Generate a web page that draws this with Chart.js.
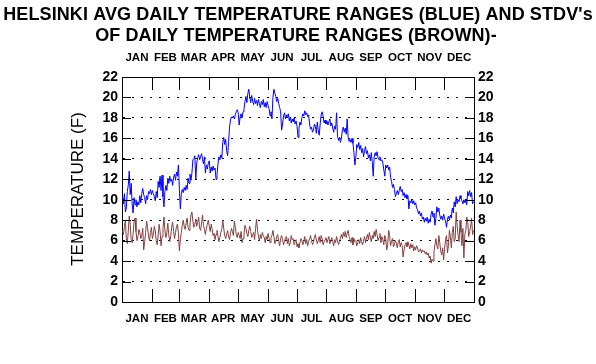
<!DOCTYPE html>
<html>
<head>
<meta charset="utf-8">
<script src="https://cdn.jsdelivr.net/npm/chart.js@4/dist/chart.umd.min.js"></script>
<style>
  html, body { margin: 0; padding: 0; background: #fff; }
  canvas { display: block; }
</style>
</head>
<body>
<canvas id="chart" width="596" height="364"></canvas>
<script>
const monthNames = ['JAN', 'FEB', 'MAR', 'APR', 'MAY', 'JUN', 'JUL', 'AUG', 'SEP', 'OCT', 'NOV', 'DEC'];
const monthStarts = [0, 31, 59, 90, 120, 151, 181, 212, 243, 273, 304, 334, 365];
const yTicks = [0, 2, 4, 6, 8, 10, 12, 14, 16, 18, 20, 22];

// avg daily temperature range (F), one value per day, Jan..Dec
const blueRange = [
  10.3, 9.6, 10.6, 8.8, 9.2, 10.8, 11.4, 12.8, 10.5, 11.6, 9.6, 8.7, 10.2, 9.5, 10.0, 9.3, 9.8, 9.5, 10.4, 9.7, 10.6, 11.1, 10.5, 10.2, 9.6, 10.4, 10.0, 10.8, 10.6, 11.0, 10.5,
  10.9, 10.6, 10.3, 9.9, 10.8, 10.2, 11.8, 11.2, 12.3, 10.9, 12.4, 10.3, 9.3, 10.8, 11.4, 10.9, 12.1, 11.6, 12.3, 11.8, 12.0, 11.4, 12.2, 12.5, 11.9, 12.7, 12.3, 13.4,
  11.0, 9.1, 10.6, 11.0, 10.7, 11.2, 10.9, 11.4, 11.0, 12.1, 11.6, 12.5, 11.9, 12.6, 13.9, 14.0, 14.3, 12.0, 13.6, 14.1, 14.4, 13.9, 14.2, 14.5, 14.0, 13.5, 14.2, 12.6, 13.4, 13.0, 13.6,
  13.8, 12.6, 13.2, 12.8, 13.3, 12.9, 13.1, 12.0, 12.4, 13.5, 14.2, 13.9, 14.4, 14.1, 15.6, 16.1, 15.4, 15.9, 14.8, 14.3, 15.6, 17.1, 17.8, 18.1, 18.0, 18.2, 17.9, 18.3, 18.6, 18.8,
  18.5, 17.3, 18.1, 18.4, 18.0, 18.6, 18.9, 19.6, 20.1, 19.5, 20.4, 20.8, 20.0, 19.5, 20.2, 19.6, 19.3, 19.9, 19.4, 19.7, 19.2, 19.8, 19.4, 19.0, 19.6, 19.3, 19.8, 19.1, 19.5, 19.0, 19.6,
  19.2, 18.9, 18.2, 18.6, 17.9, 20.0, 20.8, 20.4, 20.1, 19.6, 19.9, 19.4, 19.0, 18.6, 16.8, 17.4, 18.2, 18.5, 17.9, 18.3, 18.0, 18.4, 17.7, 18.1, 17.5, 17.9, 17.6, 18.0, 17.4, 17.7,
  17.2, 16.1, 17.0, 17.6, 17.3, 18.0, 18.4, 18.2, 18.7, 18.3, 18.5, 18.1, 18.3, 17.4, 16.9, 17.1, 16.6, 16.8, 17.4, 17.2, 16.5, 17.6, 16.8, 16.3, 17.4, 18.3, 18.6, 18.2, 17.5, 17.8, 17.4,
  17.7, 17.3, 17.6, 17.9, 17.2, 17.5, 17.0, 16.6, 17.2, 16.9, 18.5, 16.2, 15.8, 16.1, 15.6, 16.0, 16.8, 17.1, 16.6, 17.0, 16.4, 17.9, 16.1, 15.7, 15.9, 15.6, 16.0, 15.5, 14.6, 13.4, 14.2,
  15.4, 15.1, 15.6, 14.9, 15.3, 14.6, 15.0, 14.2, 14.8, 15.2, 14.5, 14.8, 14.1, 14.4, 13.8, 14.6, 13.7, 12.3, 14.2, 14.6, 14.3, 14.7, 14.1, 13.9, 14.2, 13.8, 13.9, 13.6, 12.9, 12.3,
  13.4, 13.1, 13.4, 12.9, 13.2, 12.2, 11.8, 11.2, 11.5, 11.0, 10.3, 10.6, 10.9, 10.5, 10.9, 11.3, 10.8, 11.0, 10.4, 10.7, 10.2, 10.5, 10.1, 10.4, 9.1, 9.9, 9.7, 10.0, 9.6, 9.9, 9.5,
  9.7, 9.2, 9.0, 8.6, 8.9, 8.4, 8.7, 8.1, 8.3, 7.8, 8.2, 7.9, 8.3, 7.7, 8.1, 7.8, 8.6, 8.9, 8.3, 8.7, 7.5, 8.2, 9.3, 8.8, 9.2, 8.5, 8.1, 8.4, 8.0, 8.6,
  8.2, 7.9, 7.3, 8.1, 8.4, 8.0, 8.5, 8.2, 9.2, 8.7, 9.8, 9.3, 10.3, 9.6, 10.0, 9.8, 10.4, 10.1, 9.9, 9.6, 10.0, 9.7, 9.9, 9.5, 10.8, 10.4, 10.9, 10.3, 10.7, 9.6, 9.8
];

// standard deviation of daily temperature range (F), one value per day
const brownStdev = [
  7.0, 6.6, 7.4, 8.0, 6.2, 5.7, 6.9, 8.4, 7.6, 6.1, 5.8, 6.6, 7.8, 8.2, 6.9, 6.0, 6.4, 7.1, 6.8, 6.2, 6.5, 7.2, 5.1, 5.9, 6.8, 7.9, 7.3, 6.4, 6.0, 6.8, 7.3,
  6.2, 6.6, 7.4, 7.0, 6.0, 5.6, 6.5, 7.6, 6.9, 5.5, 6.4, 7.2, 8.3, 7.0, 6.3, 6.8, 7.7, 6.6, 5.9, 6.4, 7.3, 7.8, 6.9, 6.2, 6.8, 7.4, 7.6, 6.7,
  5.0, 6.1, 6.8, 7.5, 8.0, 7.4, 7.1, 7.7, 8.2, 7.3, 7.0, 7.6, 8.5, 8.8, 7.9, 7.3, 7.6, 8.1, 7.4, 7.8, 8.3, 7.2, 7.0, 7.7, 8.5, 7.5, 7.1, 6.6, 7.2, 7.6, 8.0,
  7.4, 6.9, 7.6, 7.1, 6.5, 6.7, 6.1, 6.6, 7.0, 6.4, 5.9, 6.3, 6.8, 7.1, 8.0, 7.2, 6.5, 6.2, 6.6, 7.0, 6.4, 6.1, 6.7, 7.2, 6.9, 6.5, 7.9, 7.3, 6.6, 6.3,
  6.8, 6.5, 6.2, 6.9, 5.8, 6.2, 6.6, 7.5, 7.2, 6.7, 6.4, 7.0, 7.4, 6.9, 6.3, 6.6, 6.8, 6.1, 7.2, 8.1, 7.0, 6.4, 6.0, 6.6, 6.2, 6.8, 6.5, 6.3, 5.8, 6.4, 6.1,
  6.7, 6.2, 5.8, 6.3, 6.5, 7.0, 6.4, 5.7, 6.0, 6.4, 6.6, 5.9, 5.5, 6.2, 6.5, 6.1, 5.6, 5.9, 6.3, 6.4, 5.7, 6.2, 5.5, 5.8, 6.5, 6.1, 6.2, 5.6, 5.9, 6.1,
  5.4, 5.7, 5.3, 5.8, 6.2, 6.0, 5.6, 5.9, 6.4, 5.7, 6.1, 5.5, 5.9, 6.2, 6.5, 6.0, 5.6, 5.8, 6.3, 6.6, 6.1, 5.7, 6.0, 6.4, 5.8, 6.5, 6.2, 5.6, 5.9, 6.1, 6.3,
  5.8, 6.1, 6.4, 5.7, 6.0, 6.3, 5.9, 5.5, 6.1, 5.8, 6.4, 6.0, 5.6, 5.9, 6.3, 6.6, 6.2, 6.8, 6.4, 6.9, 6.3, 6.7, 7.0, 6.4, 6.1, 5.8, 6.3, 5.6, 6.2, 5.9, 6.0,
  5.5, 5.8, 6.1, 5.7, 6.3, 5.9, 5.6, 6.0, 6.4, 5.8, 6.2, 6.6, 6.1, 6.8, 6.3, 5.9, 6.5, 6.2, 6.9, 6.4, 7.1, 6.6, 6.0, 6.3, 6.7, 5.8, 6.4, 6.1, 5.6, 6.5,
  6.2, 5.1, 5.6, 7.0, 6.5, 5.5, 5.9, 6.2, 5.4, 5.6, 6.0, 5.7, 5.3, 5.9, 6.1, 5.4, 5.8, 5.5, 4.4, 5.1, 5.6, 5.8, 5.4, 5.9, 5.5, 5.2, 5.7, 5.3, 5.6, 5.0, 5.4,
  5.1, 5.5, 5.3, 4.9, 5.0, 5.2, 4.8, 5.1, 4.9, 5.0, 4.7, 4.9, 4.6, 4.8, 4.3, 4.5, 3.8, 4.2, 4.0, 4.9, 5.6, 6.2, 5.5, 5.2, 6.5, 5.8, 5.0, 4.6, 5.3, 4.1,
  5.2, 6.1, 6.5, 4.8, 5.5, 7.0, 6.4, 5.3, 6.8, 7.4, 5.9, 6.2, 8.8, 7.5, 6.5, 5.9, 8.0, 6.8, 5.5, 7.2, 4.3, 6.6, 7.0, 8.3, 7.8, 6.4, 6.9, 7.4, 8.2, 6.6, 7.0
];

const monthMids = monthNames.map((m, i) => (monthStarts[i] + monthStarts[i + 1]) / 2);
const tickFont = { family: "'Liberation Sans', Arial, sans-serif", size: 14, weight: 'bold' };
const monthFont = { family: "'Liberation Sans Narrow', 'Liberation Sans', Arial, sans-serif", size: 11.5, weight: 'bold' };

function monthAxis(position, height, pad) {
  return {
    type: 'linear', position, min: 0, max: 365,
    afterBuildTicks: s => { s.ticks = monthMids.map(v => ({ value: v })); },
    afterFit: s => { s.height = height; },
    ticks: { autoSkip: false, maxRotation: 0, padding: pad, color: '#000', font: monthFont,
      callback: (v, i) => monthNames[i] },
    grid: { display: false, drawTicks: false },
    border: { display: true, color: '#000', width: 1 }
  };
}

function tempAxis(position, showGrid) {
  return {
    position, min: 0, max: 22,
    afterBuildTicks: s => { s.ticks = yTicks.map(v => ({ value: v })); },
    afterFit: s => { s.width = 122; },
    ticks: { padding: 4, color: '#000', font: tickFont },
    grid: { display: showGrid, drawTicks: false, color: '#000', lineWidth: 1 },
    border: { display: true, color: '#000', width: 1, dash: [2, 7] }
  };
}

const decorations = {
  id: 'decorations',
  afterDraw(chart) {
    const { ctx, chartArea: a, scales } = chart;
    ctx.save();
    ctx.strokeStyle = '#000';
    ctx.lineWidth = 1;
    ctx.beginPath();
    monthStarts.slice(1, -1).forEach(d => {
      const x = Math.round(scales.x.getPixelForValue(d)) + 0.5;
      ctx.moveTo(x, a.top); ctx.lineTo(x, a.top + 13);
      ctx.moveTo(x, a.bottom); ctx.lineTo(x, a.bottom - 13);
    });
    yTicks.forEach(v => {
      const y = Math.round(scales.y.getPixelForValue(v)) + 0.5;
      ctx.moveTo(a.left, y); ctx.lineTo(a.left + 9, y);
      ctx.moveTo(a.right, y); ctx.lineTo(a.right - 9, y);
    });
    ctx.stroke();

    ctx.fillStyle = '#000';
    ctx.textAlign = 'center';
    ctx.textBaseline = 'middle';
    ctx.font = "bold 18px 'Liberation Sans', Arial, sans-serif";
    ctx.letterSpacing = '0.1px';
    ctx.fillText("HELSINKI AVG DAILY TEMPERATURE RANGES (BLUE) AND STDV's", 298, 15);
    ctx.fillText('OF DAILY TEMPERATURE RANGES (BROWN)-', 296, 36);
    ctx.letterSpacing = '0px';

    ctx.translate(78, 189);
    ctx.rotate(-Math.PI / 2);
    ctx.font = "17px 'Liberation Sans', Arial, sans-serif";
    ctx.fillText('TEMPERATURE (F)', 0, 0);
    ctx.restore();
  }
};

new Chart(document.getElementById('chart').getContext('2d'), {
  type: 'line',
  data: {
    datasets: [
      { label: 'Avg daily range', data: blueRange.map((v, i) => ({ x: i + 0.5, y: v })),
        borderColor: '#0000ff', borderWidth: 1, pointRadius: 0, tension: 0 },
      { label: 'Stdv of daily range', data: brownStdev.map((v, i) => ({ x: i + 0.5, y: v })),
        borderColor: '#804040', borderWidth: 1, pointRadius: 0, tension: 0 }
    ]
  },
  options: {
    responsive: false,
    animation: false,
    devicePixelRatio: 1,
    layout: { padding: 0 },
    plugins: { legend: { display: false }, title: { display: false }, tooltip: { enabled: false } },
    scales: {
      x: monthAxis('bottom', 62, 10),
      x2: monthAxis('top', 77, 12),
      y: tempAxis('left', true),
      y2: tempAxis('right', false)
    }
  },
  plugins: [decorations]
});
</script>
</body>
</html>
